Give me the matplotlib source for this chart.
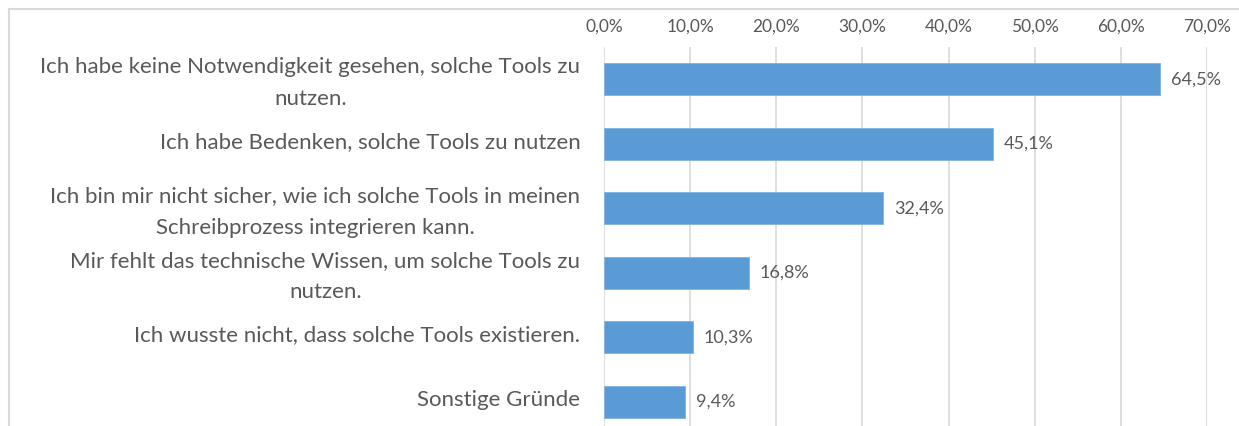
import matplotlib
matplotlib.use("Agg")
import matplotlib.pyplot as plt
from matplotlib.lines import Line2D
from matplotlib.ticker import FuncFormatter
from matplotlib.transforms import ScaledTranslation

# Gründe, solche Tools nicht zu nutzen (Anteil der Befragten)
categories = [
    "Ich habe keine Notwendigkeit gesehen, solche Tools zu\nnutzen.",
    "Ich habe Bedenken, solche Tools zu nutzen",
    "Ich bin mir nicht sicher, wie ich solche Tools in meinen\nSchreibprozess integrieren kann.",
    "Mir fehlt das technische Wissen, um solche Tools zu\nnutzen.",
    "Ich wusste nicht, dass solche Tools existieren.",
    "Sonstige Gründe",
]
values = [0.645, 0.451, 0.324, 0.168, 0.103, 0.094]
xticks = [0.0, 0.1, 0.2, 0.3, 0.4, 0.5, 0.6, 0.7]

plt.rcParams['font.family'] = ['Lato', 'DejaVu Sans']

W, H = 1239, 426
fig = plt.figure(figsize=(W / 100, H / 100), dpi=100)
ax = fig.add_axes([604 / W, 1 - 434 / H, (1207 - 604) / W, (434 - 47) / H])

text_col = '#595959'
grid_col = '#d9d9d9'
bar_col = '#5b9bd5'

y = list(range(len(categories)))
ax.barh(y, values, height=0.5, color=bar_col, edgecolor='#7fb3e3', linewidth=0.6, zorder=3)

for yi, v in zip(y, values):
    lbl = f"{v * 100:.1f}%".replace('.', ',')
    ax.annotate(lbl, (v, yi), xytext=(8, 0), textcoords='offset points',
                va='center', ha='left', fontsize=13, color=text_col)

ax.set_xlim(0, 0.7)
ax.set_ylim(len(categories) - 0.5, -0.5)
ax.set_xticks(xticks)
ax.xaxis.set_major_formatter(FuncFormatter(lambda x, p: f"{x * 100:.1f}%".replace('.', ',')))
ax.xaxis.tick_top()
ax.tick_params(axis='x', length=0, pad=9, labelsize=12.5, labelcolor=text_col)
ax.set_yticks(y)
ax.set_yticklabels(categories)
ax.tick_params(axis='y', length=0, pad=17, labelsize=16, labelcolor=text_col)
shift = ScaledTranslation(0, 4 / 100, fig.dpi_scale_trans)
for t in ax.get_yticklabels():
    t.set_multialignment('center')
    t.set_linespacing(1.72)
    t.set_transform(t.get_transform() + shift)

ax.grid(axis='x', color=grid_col, linewidth=1.2, zorder=0)
for s in ax.spines.values():
    s.set_visible(False)

# Rahmen des Diagrammbereichs
x0 = 8.5 / W
y0 = 1 - 8.5 / H
fig.add_artist(Line2D([x0, x0], [0, y0], color=grid_col, linewidth=1.5))
fig.add_artist(Line2D([x0, 1], [y0, y0], color=grid_col, linewidth=1.5))

fig.savefig("out.png", dpi=100)
